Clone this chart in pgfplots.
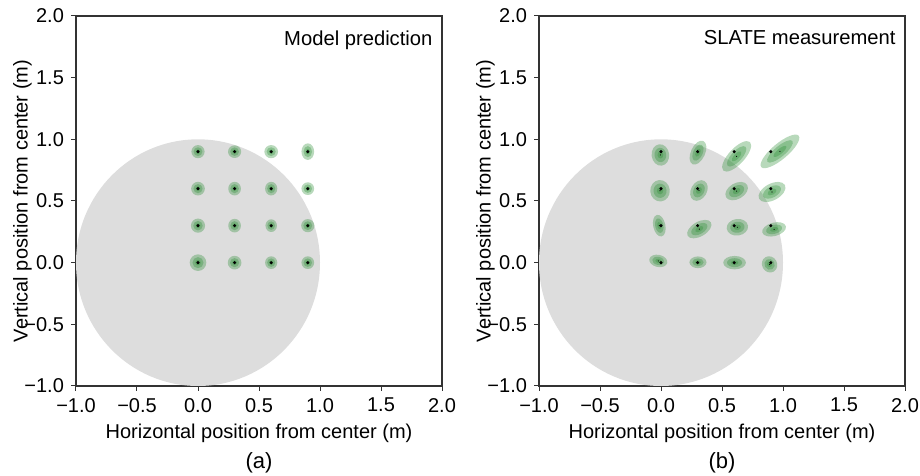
\documentclass[border=0pt]{standalone}
\usepackage{pgfplots}
\pgfplotsset{compat=1.18}
\usepackage{pgfplotstable}
\usepackage{fontspec}
\setmainfont{Liberation Sans}
\definecolor{ellg}{RGB}{40,140,50}
\definecolor{disk}{RGB}{221,221,221}

\pgfplotstableread{
x y a b ang
0 0 0.068 0.068 0
0.3 0 0.056 0.056 0
0.6 0 0.052 0.05 90
0.9 0 0.052 0.052 0
0 0.3 0.058 0.058 0
0.3 0.3 0.056 0.052 90
0.6 0.3 0.052 0.047 90
0.9 0.3 0.054 0.054 0
0 0.6 0.056 0.056 0
0.3 0.6 0.056 0.052 90
0.6 0.6 0.056 0.05 90
0.9 0.6 0.052 0.052 0
0 0.9 0.054 0.054 0
0.3 0.9 0.054 0.052 0
0.6 0.9 0.056 0.054 0
0.9 0.9 0.068 0.052 90
}\model

\pgfplotstableread{
x y cx cy a b ang
0 0.9 -0.005 0.873 0.088 0.072 97
0.3 0.9 0.303 0.892 0.105 0.058 65
0.6 0.9 0.62 0.862 0.16 0.065 47
0.9 0.9 0.975 0.902 0.2 0.065 40
0 0.6 -0.008 0.583 0.088 0.08 95
0.3 0.6 0.311 0.585 0.09 0.065 60
0.6 0.6 0.62 0.58 0.1 0.065 30
0.9 0.6 0.91 0.573 0.12 0.068 28
0 0.3 -0.014 0.3 0.09 0.05 102
0.3 0.3 0.314 0.272 0.11 0.06 30
0.6 0.3 0.626 0.287 0.088 0.068 8
0.9 0.3 0.927 0.27 0.1 0.055 15
0 0 -0.022 0.014 0.075 0.05 -12
0.3 0 0.303 0.003 0.07 0.048 0
0.6 0 0.603 0 0.093 0.055 0
0.9 0 0.89 -0.014 0.068 0.062 -60
}\meas

\pgfplotstableread{
x y r
0 0 1
}\disktab

\newcommand\ellayer[1]{%
  \pgfmathsetlengthmacro\eax{#1*\ra*61pt*cos(\eang)}%
  \pgfmathsetlengthmacro\eay{#1*\ra*61pt*sin(\eang)}%
  \pgfmathsetlengthmacro\ebx{-#1*\rb*61pt*sin(\eang)}%
  \pgfmathsetlengthmacro\eby{#1*\rb*61pt*cos(\eang)}%
  \pgfpathellipse{\pgfpointorigin}{\pgfqpoint{\eax}{\eay}}{\pgfqpoint{\ebx}{\eby}}%
  \pgfusepath{fill}%
}

\pgfplotsset{
  panel/.style={
    x=61pt, y=61.67pt,
    xmin=-1, xmax=2, ymin=-1, ymax=2,
    axis line style={black!80, line width=0.6pt},
    tick style={black!80, line width=0.5pt},
    tick align=outside,
    major tick length=2.5pt,
    xtick pos=bottom, ytick pos=left,
    xtick={-1,-0.5,0,0.5,1,1.5,2},
    ytick={-1,-0.5,0,0.5,1,1.5,2},
    xticklabels={−1.0,−0.5,0.0,0.5,1.0,1.5,2.0},
    yticklabels={−1.0,−0.5,0.0,0.5,1.0,1.5,2.0},
    ticklabel style={font=\fontsize{10}{12}\selectfont},
    label style={font=\fontsize{10}{12}\selectfont},
    xlabel={Horizontal position from center (m)},
    ylabel={Vertical position from center (m)},
    xlabel style={yshift=1pt},
    ylabel style={yshift=-10.5pt},
  },
  ellplot/.style={
    scatter, only marks, mark=*, mark size=0.01pt,
    mark options={draw=none, fill=none},
    visualization depends on={\thisrow{a}\as\ra},
    visualization depends on={\thisrow{b}\as\rb},
    visualization depends on={\thisrow{ang}\as\eang},
    scatter/@pre marker code/.code={%
      \pgfscope
      \pgfsetfillcolor{ellg}%
      \pgfsetfillopacity{0.33}%
      \ellayer{1}%
      \ellayer{0.667}%
      \ellayer{0.333}%
      \endpgfscope
    },
    scatter/@post marker code/.code={},
  },
  diskplot/.style={
    scatter, only marks, mark=*, mark size=0.01pt,
    mark options={draw=none, fill=none},
    scatter/@pre marker code/.code={%
      \pgfscope
      \pgfsetfillcolor{disk}%
      \pgfpathellipse{\pgfpointorigin}{\pgfqpoint{61pt}{0pt}}{\pgfqpoint{0pt}{61.67pt}}%
      \pgfusepath{fill}%
      \endpgfscope
    },
    scatter/@post marker code/.code={},
  },
  dotplot/.style={only marks, mark=*, mark size=0.55pt, black},
}

\begin{document}
\begin{tikzpicture}
\useasboundingbox (-38pt,-45pt) rectangle (422pt,193pt);
\begin{axis}[panel, name=L, at={(0,0)}, anchor=south west]
  \addplot[diskplot] table[x=x, y=y] {\disktab};
  \addplot[ellplot] table[x=x, y=y] {\model};
  \addplot[dotplot] table[x=x, y=y] {\model};
  \node[anchor=north east, inner sep=0pt, font=\fontsize{10.1}{12}\selectfont] at (rel axis cs:0.975,0.962) {Model prediction};
\end{axis}
\begin{axis}[panel, name=R, at={(231.5pt,0)}, anchor=south west]
  \addplot[diskplot] table[x=x, y=y] {\disktab};
  \addplot[ellplot] table[x=cx, y=cy] {\meas};
  \addplot[dotplot] table[x=x, y=y] {\meas};
  \node[anchor=north east, inner sep=0pt, font=\fontsize{10.1}{12}\selectfont] at (rel axis cs:0.975,0.962) {SLATE measurement};
\end{axis}
\node[anchor=center, font=\fontsize{11}{13}\selectfont] at ([yshift=-38.5pt]L.south) {(a)};
\node[anchor=center, font=\fontsize{11}{13}\selectfont] at ([yshift=-38.5pt]R.south) {(b)};
\end{tikzpicture}
\end{document}
